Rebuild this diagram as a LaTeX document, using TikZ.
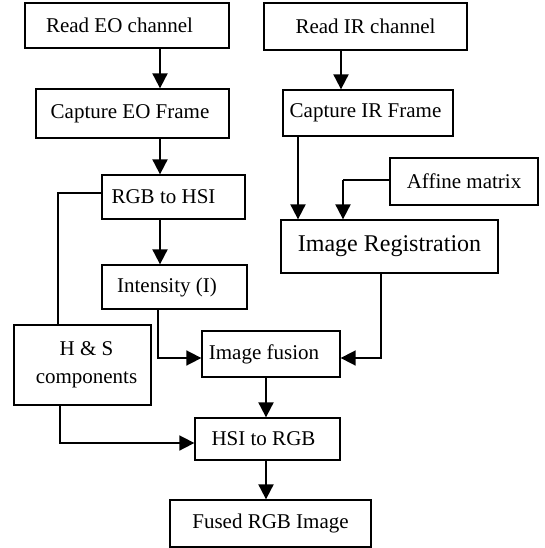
\documentclass[tikz,border=0pt]{standalone}
\usepackage{fontspec}
\setmainfont{Liberation Serif}
\usetikzlibrary{arrows.meta}
\begin{document}
\begin{tikzpicture}[x=1pt,y=-1pt,
  box/.style={draw,line width=1.3pt,inner sep=0pt,align=center,font=\fontsize{21}{28}\selectfont},
  tip/.style={-{Triangle[width=15pt,length=15pt]}},
  arr/.style={line width=2pt,tip},
  conn/.style={line width=1.7pt},
  thin/.style={line width=1.1pt}]
\useasboundingbox (0,0) rectangle (545,548);
\node[box,minimum width=204pt,minimum height=45pt] (eo) at (127,25.5) {Read EO channel\hspace{15pt}};
\node[box,minimum width=193pt,minimum height=49pt] (ceo) at (132.5,113.5) {Capture EO Frame\hspace{5pt}};
\node[box,minimum width=143pt,minimum height=44pt] (rgb) at (173.5,197) {RGB to HSI\hspace{20pt}};
\node[box,minimum width=145pt,minimum height=44pt] (int) at (174.5,287) {Intensity (I)\hspace{15pt}};
\node[box,minimum width=137pt,minimum height=80pt] (hs) at (82.5,365) {\hspace{8pt}H \& S\\\hspace{8pt}components};
\node[box,minimum width=138pt,minimum height=46pt] (fus) at (271,354) {Image fusion\hspace{14pt}};
\node[box,minimum width=145pt,minimum height=42pt] (hsi) at (267.5,439) {HSI to RGB\hspace{8pt}};
\node[box,minimum width=201pt,minimum height=47pt] (frgb) at (270.5,523.5) {Fused RGB Image};
\node[box,minimum width=203pt,minimum height=47pt] (ir) at (365.5,26.5) {Read IR channel};
\node[box,minimum width=170pt,minimum height=46pt] (cir) at (368,113) {Capture IR Frame\hspace{5pt}};
\node[box,minimum width=148pt,minimum height=47pt] (aff) at (464,181.5) {Affine matrix};
\node[box,minimum width=217pt,minimum height=53pt,font=\fontsize{24}{28}\selectfont] (reg) at (389.5,246.5) {Image Registration};
% guide coordinates
\coordinate (xa) at (160,0);
\coordinate (xb) at (58,193);
\coordinate (xc) at (158,358);
\coordinate (xd) at (60,443);
\coordinate (xe) at (266,0);
\coordinate (xf) at (341,0);
\coordinate (xg) at (298,0);
\coordinate (xh) at (343,180);
\coordinate (xi) at (381,358);
% connectors
\draw[arr] (eo.south -| xa) -- (ceo.north -| xa);
\draw[arr] (ceo.south -| xa) -- (rgb.north -| xa);
\draw[thin] (rgb.west |- xb) -- (xb) -- (hs.north -| xb);
\draw[arr] (rgb.south -| xa) -- (int.north -| xa);
\draw[conn,tip] (int.south -| xc) -- (xc) -- (fus.west |- xc);
\draw[conn,tip] (hs.south -| xd) -- (xd) -- (hsi.west |- xd);
\draw[arr] (fus.south -| xe) -- (hsi.north -| xe);
\draw[arr] (hsi.south -| xe) -- (frgb.north -| xe);
\draw[arr] (ir.south -| xf) -- (cir.north -| xf);
\draw[arr] (cir.south -| xg) -- (reg.north -| xg);
\draw[thin] (aff.west |- xh) -- (xh);
\draw[arr] (xh) -- (reg.north -| xh);
\draw[conn,tip] (reg.south -| xi) -- (xi) -- (fus.east |- xi);
\end{tikzpicture}
\end{document}
